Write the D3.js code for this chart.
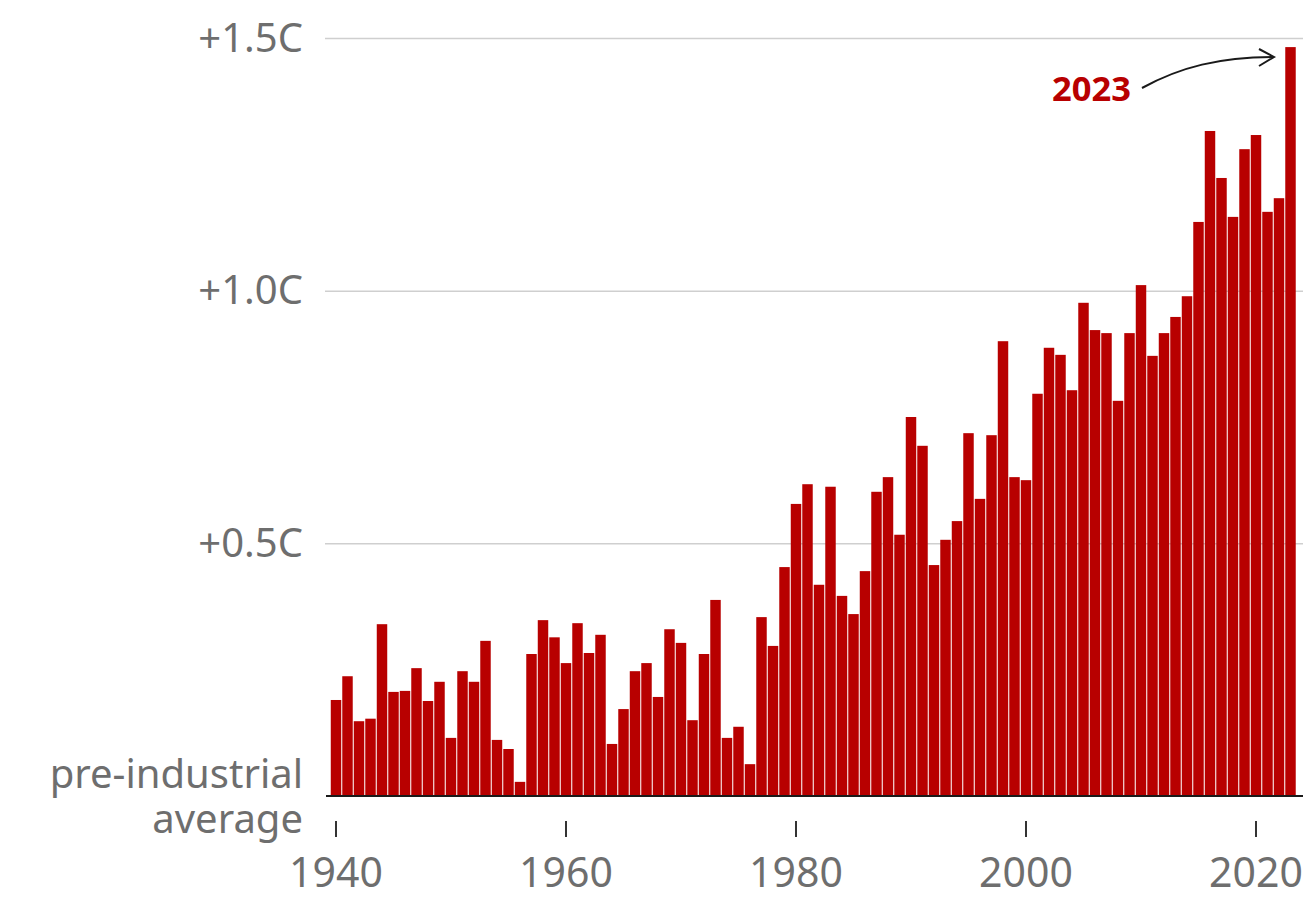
<!DOCTYPE html>
<html>
<head>
<meta charset="utf-8">
<script src="https://cdn.jsdelivr.net/npm/d3@7"></script>
<style>
  html, body { margin: 0; background: #fff; }
  text { font-family: "Noto Sans", sans-serif; fill: #6e6e6e; }
</style>
</head>
<body>
<svg id="chart" width="1313" height="900"></svg>
<script>
var firstYear = 1940

// warming above the pre-industrial average, one value per year from 1940
var anomalies = [
  0.190, 0.237, 0.148, 0.153, 0.340, 0.206, 0.208, 0.253, 0.188, 0.226,
  0.115, 0.247, 0.226, 0.307, 0.111, 0.093, 0.028, 0.281, 0.348, 0.314,
  0.263, 0.342, 0.283, 0.319, 0.103, 0.172, 0.247, 0.263, 0.196, 0.330,
  0.303, 0.150, 0.281, 0.388, 0.115, 0.137, 0.063, 0.354, 0.297, 0.453,
  0.578, 0.617, 0.418, 0.612, 0.396, 0.360, 0.445, 0.602, 0.631, 0.517,
  0.750, 0.693, 0.457, 0.507, 0.544, 0.718, 0.588, 0.714, 0.900, 0.631,
  0.625, 0.796, 0.887, 0.873, 0.803, 0.976, 0.922, 0.916, 0.782, 0.916,
  1.011, 0.871, 0.916, 0.948, 0.989, 1.136, 1.316, 1.223, 1.146, 1.280,
  1.308, 1.156, 1.183, 1.482
]
var years = anomalies.map(function(d, i){ return firstYear + i })

var yearTicks = [1940, 1960, 1980, 2000, 2020]
var valueTicks = [0.5, 1.0, 1.5]
var valueLabels = ['+0.5C', '+1.0C', '+1.5C']
var baselineLabel = ['pre-industrial', 'average']
var highlightLabel = '2023'

var svg = d3.select('#chart')

var x = d3.scaleBand()
  .domain(years)
  .range([330.25, 1296.25])
  .paddingInner(0.09)
  .paddingOuter(0.045)

var y = d3.scaleLinear()
  .domain([0, 1.5])
  .range([796, 38])

// gridlines and their labels
var grid = svg.append('g').call(
  d3.axisLeft(y)
    .tickValues(valueTicks)
    .tickFormat(function(d, i){ return valueLabels[i] })
    .tickSize(0)
)
grid.select('.domain').remove()
grid.selectAll('.tick line')
  .attr('x1', 325)
  .attr('x2', 1303)
  .attr('stroke', '#cfcfcf')
  .attr('stroke-width', 1.5)
grid.selectAll('.tick text')
  .attr('x', 303)
  .attr('dy', '13px')
  .attr('text-anchor', 'end')
  .style('font-family', '"Noto Sans", sans-serif')
  .style('font-size', '40px')
  .attr('fill', '#6e6e6e')

// bars
svg.append('g').selectAll('rect')
  .data(anomalies)
  .enter()
  .append('rect')
  .attr('x', function(d, i){ return x(years[i]) })
  .attr('y', function(d){ return y(d) })
  .attr('width', x.bandwidth())
  .attr('height', function(d){ return y(0) - y(d) })
  .attr('fill', '#b80000')

// baseline
svg.append('line')
  .attr('x1', 326)
  .attr('x2', 1303)
  .attr('y1', y(0))
  .attr('y2', y(0))
  .attr('stroke', '#1a1a1a')
  .attr('stroke-width', 2)

// year axis
var xAxis = svg.append('g')
  .attr('transform', 'translate(0,821)')
  .call(d3.axisBottom(x).tickValues(yearTicks).tickSize(16).tickPadding(21))
xAxis.select('.domain').remove()
xAxis.selectAll('.tick line')
  .attr('stroke', '#333')
  .attr('stroke-width', 2)
xAxis.selectAll('.tick text')
  .style('font-family', '"Noto Sans", sans-serif')
  .style('font-size', '41px')
  .attr('fill', '#6e6e6e')

// two line label at the bottom of the value axis
svg.append('text')
  .attr('text-anchor', 'end')
  .style('font-size', '40px')
  .selectAll('tspan')
  .data(baselineLabel)
  .enter()
  .append('tspan')
  .attr('x', 303)
  .attr('y', function(d, i){ return 788 + i * 45 })
  .text(function(d){ return d })

// 2023 callout
svg.append('text')
  .attr('x', 1131)
  .attr('y', 101)
  .attr('text-anchor', 'end')
  .style('font-size', '34.5px')
  .style('font-weight', 700)
  .style('fill', '#b80000')
  .text(highlightLabel)

svg.append('path')
  .attr('d', 'M1142,88 C1180,67 1220,57 1274,57 M1259,49 L1274,57 L1259,66')
  .attr('fill', 'none')
  .attr('stroke', '#1a1a1a')
  .attr('stroke-width', 2)
</script>
</body>
</html>
